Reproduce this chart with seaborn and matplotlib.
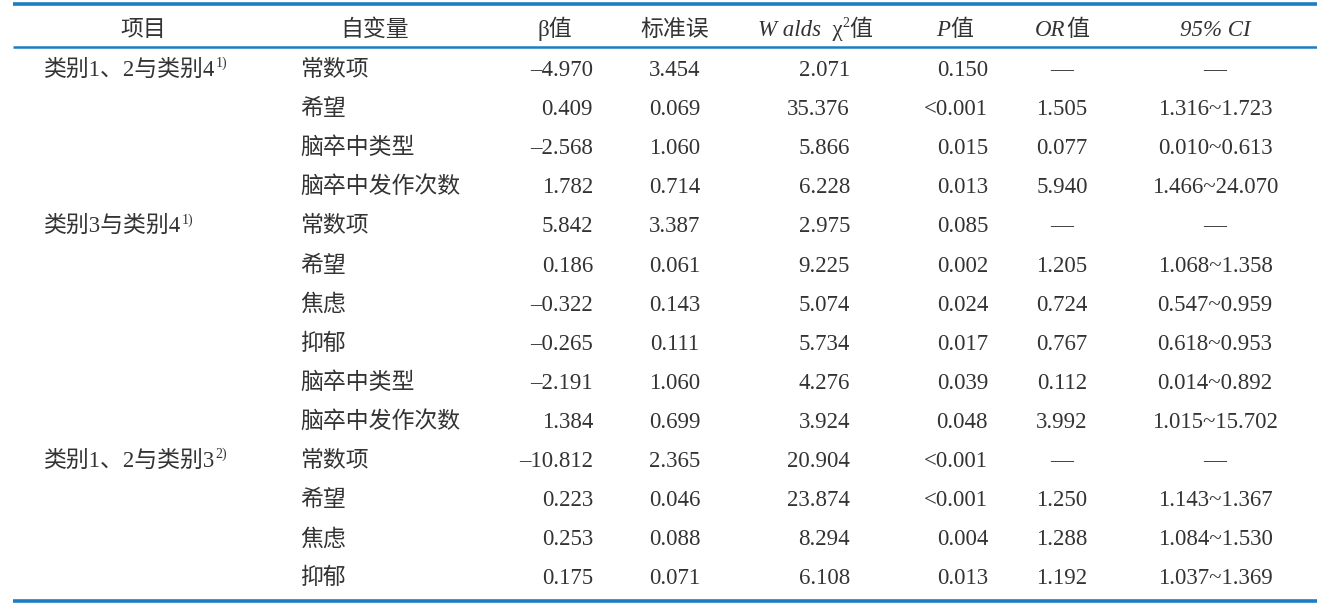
import matplotlib
matplotlib.use("Agg")
import matplotlib.pyplot as plt
import seaborn as sns

# table content
groups = ["类别1、2与类别4", "类别3与类别4", "类别1、2与类别3"]
group_notes = ["1)", "1)", "2)"]
group_sizes = [4, 6, 4]
variables = ["常数项", "希望", "脑卒中类型", "脑卒中发作次数",
             "常数项", "希望", "焦虑", "抑郁", "脑卒中类型", "脑卒中发作次数",
             "常数项", "希望", "焦虑", "抑郁"]
beta = [-4.970, 0.409, -2.568, 1.782, 5.842, 0.186, -0.322, -0.265,
        -2.191, 1.384, -10.812, 0.223, 0.253, 0.175]
se = [3.454, 0.069, 1.060, 0.714, 3.387, 0.061, 0.143, 0.111,
      1.060, 0.699, 2.365, 0.046, 0.088, 0.071]
wald = [2.071, 35.376, 5.866, 6.228, 2.975, 9.225, 5.074, 5.734,
        4.276, 3.924, 20.904, 23.874, 8.294, 6.108]
p_value = ["0.150", "<0.001", "0.015", "0.013", "0.085", "0.002", "0.024",
           "0.017", "0.039", "0.048", "<0.001", "<0.001", "0.004", "0.013"]
odds_ratio = [None, 1.505, 0.077, 5.940, None, 1.205, 0.724, 0.767,
              0.112, 3.992, None, 1.250, 1.288, 1.192]
ci_low = [None, 1.316, 0.010, 1.466, None, 1.068, 0.547, 0.618,
          0.014, 1.015, None, 1.143, 1.084, 1.037]
ci_high = [None, 1.723, 0.613, 24.070, None, 1.358, 0.959, 0.953,
           0.892, 15.702, None, 1.367, 1.530, 1.369]

sns.set_theme(style="white")
FAM = ["Liberation Serif", "Noto Sans CJK SC"]
plt.rcParams["font.family"] = FAM
TXT = "#333333"
RULE = "#1d7cc2"
FS = 16.5

W, H = 1317, 607
fig = plt.figure(figsize=(W / 100, H / 100), dpi=100)
ax = fig.add_axes([0, 0, 1, 1])
ax.set_xlim(0, W)
ax.set_ylim(H, 0)
ax.axis("off")
renderer = fig.canvas.get_renderer()


def fmt(v):
    if v is None:
        return "—"
    return f"{v:.3f}".replace("-", "–")


def put(x, y, s, ha="left", dy=0, **kw):
    # y is the visual middle of the row, text sits on a baseline below it
    return ax.text(x, y + 8 - dy, s, ha=ha, va="baseline",
                   fontsize=kw.pop("fontsize", FS), color=TXT, family=FAM,
                   weight="light", **kw)


def put_parts(xc, y, parts):
    # draw several styled pieces one after another, centred on xc
    arts = []
    x = 0
    for s, kw in parts:
        t = put(x, y, s, **kw)
        w = t.get_window_extent(renderer).width
        arts.append((t, x))
        x += w
    for t, x0 in arts:
        t.set_x(xc - x / 2 + x0)


def put_note(t, note):
    ax.annotate(note, xy=(1, 0), xycoords=t, xytext=(0, 10), textcoords="offset points",
                ha="left", va="baseline", fontsize=10, color=TXT, family=FAM)


header_y = 28
row_y0, row_step = 68, 39.1

# rules
ax.hlines(4, 13, W, color=RULE, lw=2.6)
ax.hlines(47, 13, W, color=RULE, lw=1.8)
ax.hlines(601, 13, W, color=RULE, lw=2.6)

# header
put(143, header_y, "项目", ha="center")
put(375, header_y, "自变量", ha="center")
put(555, header_y, "β值", ha="center")
put(675, header_y, "标准误", ha="center")
put_parts(815, header_y, [("W alds", {"style": "italic"}), ("  χ", {}),
                          ("2", {"fontsize": 10, "dy": 9}), ("值", {})])
put_parts(955, header_y, [("P", {"style": "italic"}), ("值", {})])
put_parts(1062, header_y, [("OR", {"style": "italic"}), ("值", {})])
put(1215, header_y, "95% CI", ha="center", style="italic")

# group labels
start = 0
for g, note, n in zip(groups, group_notes, group_sizes):
    t = put(44, row_y0 + start * row_step, g)
    put_note(t, note)
    start += n

# body
for i, var in enumerate(variables):
    y = row_y0 + i * row_step
    put(300, y, var)
    put(593, y, fmt(beta[i]), ha="right")
    put(675, y, fmt(se[i]), ha="center")
    put(850, y, fmt(wald[i]), ha="right")
    put(988, y, p_value[i], ha="right")
    put(1062, y, fmt(odds_ratio[i]), ha="center")
    if ci_low[i] is None:
        ci = "—"
    else:
        ci = f"{ci_low[i]:.3f}~{ci_high[i]:.3f}"
    put(1215, y, ci, ha="center")

fig.savefig("out.png", dpi=100)
